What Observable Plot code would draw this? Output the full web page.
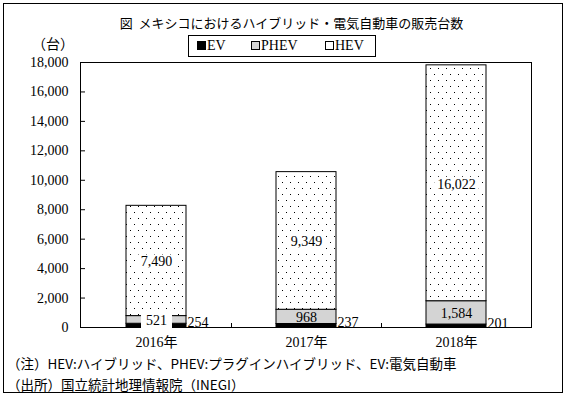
<!DOCTYPE html>
<html><head><meta charset="utf-8">
<script src="https://cdn.jsdelivr.net/npm/d3@7"></script>
<script src="https://cdn.jsdelivr.net/npm/@observablehq/plot@0.6"></script>
<style>
html,body{margin:0;padding:0;background:#fff;}
#wrap{position:relative;width:567px;height:399px;overflow:hidden;font-family:"Liberation Serif","Noto Sans CJK JP",serif;color:#000;}
#wrap svg{position:absolute;left:0;top:0;}
.border{position:absolute;left:3px;top:3px;width:560px;height:390px;border:1px solid #000;box-sizing:border-box;}
.title{position:absolute;left:8px;width:567px;top:14px;text-align:center;font-family:"Noto Sans CJK JP";font-size:13px;line-height:18px;}
.unit{position:absolute;left:32px;top:34px;font-family:"Noto Sans CJK JP";font-size:14px;line-height:18px;}
.legend{position:absolute;left:188px;top:35px;width:188px;height:22px;border:1px solid #000;box-sizing:border-box;font-size:14px;line-height:20px;}
.legend span.item{position:absolute;top:0;white-space:nowrap;}
.legend i{display:inline-block;width:7px;height:7px;border:1px solid #000;margin-right:1px;vertical-align:0px;}
.note{position:absolute;left:7px;font-family:"Noto Sans CJK JP";font-size:13.5px;line-height:16px;white-space:nowrap;}
</style></head>
<body>
<div id="wrap">
<div class="border"></div>
<div class="title">図&nbsp; メキシコにおけるハイブリッド・電気自動車の販売台数</div>
<div class="unit">（台）</div>
<div class="legend" id="legend"></div>
<div class="note" style="top:355px">（注）HEV:ハイブリッド、PHEV:プラグインハイブリッド、EV:電気自動車</div>
<div class="note" style="top:376px">（出所）国立統計地理情報院（INEGI）</div>
</div>
<script>
const years = ["2016年", "2017年", "2018年"];
const series = ["EV", "PHEV", "HEV"];
const evValues = [254, 237, 201];
const phevValues = [521, 968, 1584];
const hevValues = [7490, 9349, 16022];
const yTicks = [0, 2000, 4000, 6000, 8000, 10000, 12000, 14000, 16000, 18000];
const seriesColors = ["#000000", "#d4d4d4", "url(#dots)"];

const rows = [];
years.forEach((year, i) => {
  rows.push({year, series: "EV", value: evValues[i]});
  rows.push({year, series: "PHEV", value: phevValues[i]});
  rows.push({year, series: "HEV", value: hevValues[i]});
});
const fmt = d3.format(",");

function bandTicks(index, scales, values, dimensions) {
  const x = scales.x;
  const g = d3.create("svg:g");
  const bw = x.bandwidth();
  const y0 = dimensions.height - dimensions.marginBottom;
  for (let i = 1; i < years.length; i++) {
    const bx = Math.round((x(years[i - 1]) + bw + x(years[i])) / 2) + 0.5;
    g.append("line").attr("x1", bx).attr("x2", bx).attr("y1", y0).attr("y2", y0 - 4).attr("stroke", "#000");
  }
  return g.node();
}

const stackOpts = {x: "year", y: "value", z: "series", order: series};

const plot = Plot.plot({
  width: 567, height: 399,
  marginLeft: 80, marginRight: 36, marginTop: 62, marginBottom: 72,
  style: {fontFamily: "Liberation Serif, Noto Sans CJK JP, serif", fontSize: "14px", color: "#000", background: "transparent", overflow: "visible"},
  x: {domain: years, paddingInner: 0.6, paddingOuter: 0.3, label: null, axis: null},
  y: {domain: [0, 18000], label: null, axis: null},
  color: {domain: series, range: seriesColors},
  marks: [
    Plot.barY(rows, {...stackOpts, fill: "series", stroke: "#000", strokeWidth: 1}),
    Plot.frame({stroke: "#000"}),
    Plot.axisY({ticks: yTicks, tickSize: -5, tickPadding: 17, tickFormat: fmt, label: null}),
    Plot.axisX({tickSize: 0, tickPadding: 10, label: null}),
    bandTicks,
    Plot.text(rows, Plot.stackY({...stackOpts, ariaDescription: "boxed-hev",
      text: d => d.series === "HEV" ? fmt(d.value) : null, dy: 1})),
    Plot.text(rows, Plot.stackY({...stackOpts, ariaDescription: "boxed-phev",
      text: d => d.series === "PHEV" && d.value < 700 ? fmt(d.value) : null, dy: 1})),
    Plot.text(rows, Plot.stackY({...stackOpts, ariaDescription: "plain-phev",
      text: d => d.series === "PHEV" && d.value >= 700 ? fmt(d.value) : null, dy: 1})),
    Plot.text(rows, Plot.stackY({...stackOpts, ariaDescription: "ev-labels",
      text: d => d.series === "EV" ? fmt(d.value) : null, textAnchor: "start", dx: 31, dy: -3}))
  ]
});

const svg = d3.select(plot);
svg.insert("defs", ":first-child").html(
  '<pattern id="dots" width="8" height="12" patternUnits="userSpaceOnUse">' +
  '<rect width="8" height="12" fill="#fff"/>' +
  '<rect x="2" y="2" width="1" height="1" fill="#000"/>' +
  '<rect x="6" y="8" width="1" height="1" fill="#000"/></pattern>');

document.getElementById("wrap").insertBefore(plot, document.querySelector(".title"));

// white label boxes
function boxLabels(desc, padX, padY) {
  svg.selectAll("g").filter(function () { return this.getAttribute("aria-description") === desc; })
    .selectAll("text").each(function () {
      const b = this.getBBox();
      const r = document.createElementNS("http://www.w3.org/2000/svg", "rect");
      r.setAttribute("x", b.x - padX); r.setAttribute("y", b.y - padY);
      r.setAttribute("width", b.width + 2 * padX); r.setAttribute("height", b.height + 2 * padY);
      r.setAttribute("fill", "#fff");
      const t = this.getAttribute("transform");
      if (t) r.setAttribute("transform", t);
      this.parentNode.insertBefore(r, this);
    });
}
boxLabels("boxed-hev", 3, 0);
boxLabels("boxed-phev", 5, 1);

// legend
const legend = d3.select("#legend");
const legendX = [8, 62, 136];
series.forEach((s, i) => {
  const item = legend.append("span").attr("class", "item").style("left", legendX[i] + "px");
  const sw = item.append("i");
  if (s === "EV") sw.style("background", "#000");
  else if (s === "PHEV") sw.style("background", "#d4d4d4");
  else sw.style("background", "#fff");
  item.append("span").text(s);
});
</script>
</body></html>
